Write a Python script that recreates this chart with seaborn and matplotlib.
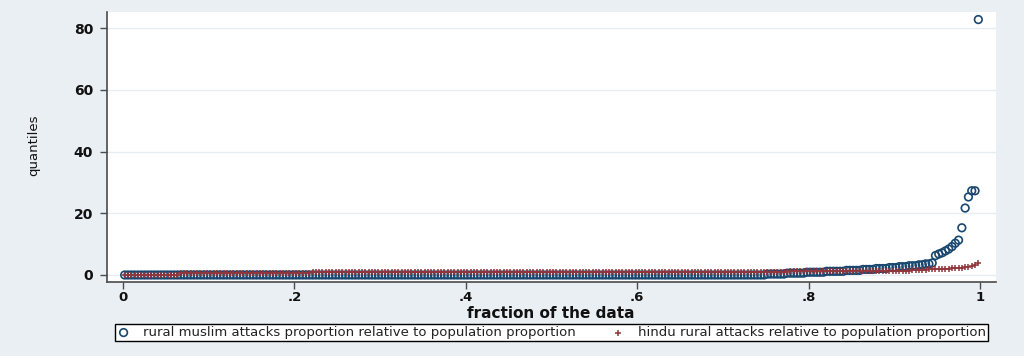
import numpy as np
import pandas as pd
import matplotlib
matplotlib.use("Agg")
import matplotlib.pyplot as plt
import seaborn as sns

# ---- data (sorted quantile values, run-length encoded) ----
muslim_label = "rural muslim attacks proportion relative to population proportion"
hindu_label = "hindu rural attacks relative to population proportion"

muslim_values = [0.0, 0.3, 0.6, 0.9, 1.2, 1.5, 1.8, 2.1, 2.4, 2.7, 3.0, 3.3, 3.6, 3.9,
                 6.3, 6.8, 7.2, 7.8, 8.4, 9.2, 10.3, 11.3, 15.3, 21.7, 25.3, 27.3, 82.8]
muslim_counts = [195, 6, 6, 6, 6, 5, 4, 4, 3, 3, 3, 2, 2, 1,
                 1, 1, 1, 1, 1, 1, 1, 1, 1, 1, 1, 2, 1]

hindu_values = [0.0, 0.8, 0.9, 1.0, 1.1, 1.2, 1.3, 1.4, 1.6, 1.8, 2.0, 2.2, 2.4, 2.6,
                2.9, 3.3, 3.9]
hindu_counts = [17, 40, 60, 50, 35, 20, 10, 7, 5, 4, 3, 2, 2, 2, 1, 1, 1]

x_ticks = [0, 0.2, 0.4, 0.6, 0.8, 1.0]
x_tick_labels = ["0", ".2", ".4", ".6", ".8", "1"]
y_ticks = [0, 20, 40, 60, 80]
y_tick_labels = ["0", "20", "40", "60", "80"]


def quantile_frame(values, counts):
    q = np.repeat(values, counts)
    n = len(q)
    frac = (np.arange(1, n + 1) - 0.5) / n  # plotting positions of a quantile plot
    return pd.DataFrame({"fraction": frac, "quantile": q})


df_m = quantile_frame(muslim_values, muslim_counts)
df_h = quantile_frame(hindu_values, hindu_counts)

# ---- style ----
bg = "#e9eff2"
navy = "#1a476f"
maroon = "#90353b"
axis_col = "#4a4a4a"
txt = "#111111"

sns.set_theme(style="white")
plt.rcParams["font.family"] = ["DejaVu Sans"]

W, H = 1024, 356
fig = plt.figure(figsize=(W / 100, H / 100), dpi=100, facecolor=bg)
L, R, T, B = 107, 996, 12, 282
ax = fig.add_axes([L / W, 1 - B / H, (R - L) / W, (B - T) / H])
ax.set_facecolor("white")

sns.scatterplot(data=df_m, x="fraction", y="quantile", ax=ax, marker="o",
                facecolor="none", edgecolor=navy, s=30, linewidth=1.2,
                label=muslim_label, legend=False, zorder=3)
sns.scatterplot(data=df_h, x="fraction", y="quantile", ax=ax, marker="+",
                color=maroon, s=22, linewidth=1.1,
                label=hindu_label, legend=False, zorder=4)

ax.set_xlim(-0.0187, 1.0187)
ax.set_ylim(-2.27, 85.25)

ax.set_xticks(x_ticks)
ax.set_xticklabels(x_tick_labels)
ax.set_yticks(y_ticks)
ax.set_yticklabels(y_tick_labels)

ax.yaxis.grid(True, color="#e6edf0", linewidth=1.0)
ax.xaxis.grid(False)
ax.set_axisbelow(True)

for side in ["top", "right"]:
    ax.spines[side].set_visible(False)
for side in ["left", "bottom"]:
    ax.spines[side].set_color(axis_col)
    ax.spines[side].set_linewidth(1.2)

ax.tick_params(axis="both", which="major", bottom=True, left=True, direction="out",
               length=5, width=1.0, color=axis_col, labelsize=10, labelcolor=txt)
ax.tick_params(axis="x", pad=1.5, labelsize=9.5)
ax.tick_params(axis="y", pad=5)
for lab in ax.get_xticklabels() + ax.get_yticklabels():
    lab.set_fontweight("bold")

ax.set_xlabel("fraction of the data", fontsize=11, fontweight="bold", color=txt, va="top")
ax.xaxis.set_label_coords((551 - L) / (R - L), (B - 305.5) / (B - T))
ax.set_ylabel("quantiles", fontsize=9.5, color=txt)
ax.yaxis.set_label_coords((40 - L) / (R - L), (B - 145) / (B - T))

handles, labels = ax.get_legend_handles_labels()
leg = fig.legend(handles, labels, loc="lower left",
                 bbox_to_anchor=(115 / W, 1 - 341 / H, (988 - 115) / W, 18 / H),
                 mode="expand", ncol=2, fontsize=9.5, frameon=True, fancybox=False,
                 edgecolor="black", facecolor="white", framealpha=1, borderaxespad=0,
                 borderpad=0.15, handlelength=1.0, handletextpad=1.0, markerscale=1.0)
leg.get_frame().set_linewidth(1.0)
for t in leg.get_texts():
    t.set_color("#222222")

fig.savefig("out.png", dpi=100, facecolor=bg)
